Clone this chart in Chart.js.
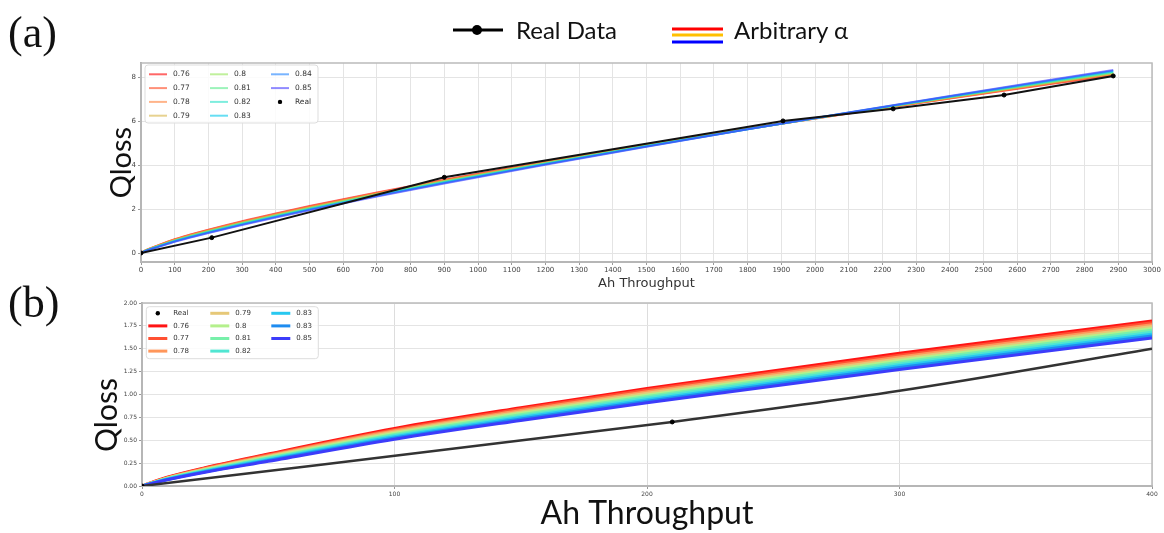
<!DOCTYPE html>
<html>
<head>
<meta charset="utf-8">
<script src="https://cdn.jsdelivr.net/npm/chart.js@4.4.1/dist/chart.umd.min.js"></script>
<style>
  body { margin: 0; background: #fff; width: 1164px; height: 533px; position: relative; overflow: hidden; }
  .panel { position: absolute; left: 0; width: 1164px; }
  #panelA { top: 0; height: 292px; }
  #panelB { top: 292px; height: 241px; }
  #overlay { position: absolute; left: 0; top: 0; pointer-events: none; }
</style>
</head>
<body>
<div class="panel" id="panelA"><canvas id="chartA"></canvas></div>
<div class="panel" id="panelB"><canvas id="chartB"></canvas></div>

<!-- figure-level decoration: panel tags, shared legend, y title of (b) -->
<svg id="overlay" width="1164" height="533">
  <text x="8" y="47" font-family="Liberation Serif" font-size="44" fill="#111">(a)</text>
  <text x="8" y="317" font-family="Liberation Serif" font-size="44" fill="#111">(b)</text>
  <line x1="453" y1="30" x2="503" y2="30" stroke="#000" stroke-width="3"/>
  <circle cx="477" cy="30" r="5" fill="#000"/>
  <text x="516" y="39" font-family="Lato" font-size="24" fill="#111">Real Data</text>
  <line x1="672" y1="29" x2="723" y2="29" stroke="#ff0000" stroke-width="3"/>
  <line x1="672" y1="35" x2="723" y2="35" stroke="#ffc000" stroke-width="3"/>
  <line x1="672" y1="42" x2="723" y2="42" stroke="#0000ff" stroke-width="3"/>
  <text x="734" y="39" font-family="Lato" font-size="24" fill="#111">Arbitrary α</text>
  <text transform="translate(117,415) rotate(-90)" text-anchor="middle" font-family="Lato" font-size="30" fill="#111">Qloss</text>
</svg>

<script>
// Ah throughput grid the fitted curves are read at
const xGrid = [0, 10, 25, 50, 100, 150, 200, 300, 400, 500, 700, 900, 1200, 1500, 1800, 2100, 2400, 2700, 2885];

// Qloss for each alpha
const q076 = [0, 0.095, 0.200, 0.350, 0.629, 0.856, 1.065, 1.450, 1.804, 2.138, 2.761, 3.342, 4.159, 4.927, 5.660, 6.363, 7.041, 7.701, 8.098];
const q077 = [0, 0.092, 0.194, 0.341, 0.616, 0.841, 1.048, 1.430, 1.783, 2.117, 2.740, 3.323, 4.144, 4.918, 5.657, 6.368, 7.054, 7.722, 8.125];
const q078 = [0, 0.089, 0.189, 0.332, 0.603, 0.825, 1.031, 1.411, 1.763, 2.096, 2.720, 3.304, 4.129, 4.909, 5.655, 6.373, 7.067, 7.744, 8.152];
const q079 = [0, 0.086, 0.183, 0.323, 0.590, 0.810, 1.013, 1.391, 1.742, 2.074, 2.699, 3.285, 4.114, 4.900, 5.652, 6.378, 7.080, 7.765, 8.179];
const q080 = [0, 0.083, 0.178, 0.314, 0.577, 0.794, 0.996, 1.372, 1.721, 2.053, 2.678, 3.266, 4.099, 4.891, 5.650, 6.383, 7.093, 7.786, 8.206];
const q081 = [0, 0.080, 0.172, 0.306, 0.564, 0.779, 0.979, 1.352, 1.701, 2.032, 2.658, 3.247, 4.085, 4.882, 5.647, 6.388, 7.106, 7.808, 8.233];
const q082 = [0, 0.077, 0.167, 0.297, 0.551, 0.763, 0.962, 1.333, 1.680, 2.011, 2.637, 3.228, 4.070, 4.873, 5.645, 6.393, 7.119, 7.829, 8.259];
const q083 = [0, 0.074, 0.161, 0.288, 0.538, 0.748, 0.944, 1.313, 1.659, 1.990, 2.616, 3.210, 4.055, 4.864, 5.642, 6.398, 7.132, 7.850, 8.286];
const q084 = [0, 0.071, 0.156, 0.279, 0.525, 0.732, 0.927, 1.294, 1.639, 1.968, 2.596, 3.191, 4.040, 4.855, 5.640, 6.403, 7.145, 7.872, 8.313];
const q085 = [0, 0.068, 0.150, 0.270, 0.512, 0.717, 0.910, 1.274, 1.618, 1.947, 2.575, 3.172, 4.025, 4.846, 5.637, 6.408, 7.158, 7.893, 8.340];
const seriesQ = [q076, q077, q078, q079, q080, q081, q082, q083, q084, q085];

// legend labels (panel (b) really has 0.83 twice)
const alphaLabelsA = ['0.76', '0.77', '0.78', '0.79', '0.8', '0.81', '0.82', '0.83', '0.84', '0.85'];
const alphaLabelsB = ['0.76', '0.77', '0.78', '0.79', '0.8', '0.81', '0.82', '0.83', '0.83', '0.85'];

// measured points
const realX = [0, 210, 900, 1905, 2232, 2561, 2885];
const realY = [0, 0.70, 3.45, 6.02, 6.57, 7.20, 8.07];
// smoothed real curve shown in the zoomed panel
const realLineBX = [0, 210, 300, 400];
const realLineBY = [0, 0.70, 1.04, 1.50];

// tick labels
const xTicksA = [0, 100, 200, 300, 400, 500, 600, 700, 800, 900, 1000, 1100, 1200, 1300, 1400, 1500,
                 1600, 1700, 1800, 1900, 2000, 2100, 2200, 2300, 2400, 2500, 2600, 2700, 2800, 2900, 3000];
const yTicksA = [0, 2, 4, 6, 8];
const xTicksB = [0, 100, 200, 300, 400];
const yTicksB = [0, 0.25, 0.5, 0.75, 1, 1.25, 1.5, 1.75, 2];

// rainbow-ish colours, pale in (a), strong in (b)
const colorsA = ['rgba(255,0,0,0.6)', 'rgba(255,70,30,0.6)', 'rgba(255,130,60,0.6)', 'rgba(215,180,70,0.6)',
                 'rgba(150,230,90,0.6)', 'rgba(90,235,140,0.6)', 'rgba(40,225,200,0.6)', 'rgba(0,200,235,0.6)',
                 'rgba(30,130,255,0.6)', 'rgba(70,60,255,0.6)'];
const colorsB = ['rgb(255,20,20)', 'rgb(255,80,50)', 'rgb(255,150,90)', 'rgb(230,200,120)', 'rgb(180,240,140)',
                 'rgb(120,240,170)', 'rgb(80,230,210)', 'rgb(40,200,240)', 'rgb(30,140,240)', 'rgb(60,60,250)'];

Chart.defaults.font.family = "'DejaVu Sans', sans-serif";
Chart.defaults.color = '#444';
Chart.defaults.animation = false;

function toPoints(xs, ys) {
    return ys.map((y, i) => ({ x: xs[i], y: y }));
}

// grey box round the plot, like matplotlib spines
const frame = {
    id: 'frame',
    beforeDatasetsDraw(chart) {
        const { ctx, chartArea: a } = chart;
        ctx.save();
        ctx.strokeStyle = '#bbbbbb';
        ctx.lineWidth = 1.5;
        ctx.strokeRect(a.left, a.top, a.right - a.left, a.bottom - a.top);
        ctx.restore();
    }
};

// column-major legend box drawn inside the plot
const mplLegend = {
    id: 'mplLegend',
    afterDatasetsDraw(chart, args, o) {
        const { ctx, chartArea } = chart;
        const left = chartArea.left + o.dx, top = chartArea.top + o.dy;
        ctx.save();
        ctx.beginPath();
        ctx.roundRect(left, top, o.width, o.height, 3);
        ctx.fillStyle = 'rgba(255,255,255,0.85)';
        ctx.fill();
        ctx.strokeStyle = '#dddddd';
        ctx.lineWidth = 1;
        ctx.stroke();
        ctx.font = o.fontSize + "px 'DejaVu Sans'";
        ctx.textBaseline = 'middle';
        o.columns.forEach((col, c) => {
            col.forEach((idx, r) => {
                const ds = chart.data.datasets[idx];
                const x = left + o.colX[c];
                const y = top + o.firstRow + r * o.rowGap;
                if (ds.showLine === false) {
                    ctx.beginPath();
                    ctx.arc(x + o.lineLen / 2, y, 2.2, 0, Math.PI * 2);
                    ctx.fillStyle = '#000';
                    ctx.fill();
                } else {
                    ctx.beginPath();
                    ctx.moveTo(x, y);
                    ctx.lineTo(x + o.lineLen, y);
                    ctx.strokeStyle = ds.borderColor;
                    ctx.lineWidth = ds.borderWidth;
                    ctx.stroke();
                }
                ctx.fillStyle = '#333';
                ctx.fillText(ds.label, x + o.lineLen + o.textGap, y);
            });
        });
        ctx.restore();
    }
};

// ---------- panel (a): full range ----------
const datasetsA = seriesQ.map((ys, k) => ({
    label: alphaLabelsA[k],
    data: toPoints(xGrid, ys),
    borderColor: colorsA[k],
    backgroundColor: colorsA[k],
    borderWidth: 2,
    pointRadius: 0,
    cubicInterpolationMode: 'monotone',
    order: 20 - k
}));
datasetsA.push({ label: 'Real line', data: toPoints(realX, realY), borderColor: '#111', borderWidth: 2, pointRadius: 0, order: 1 });
datasetsA.push({ label: 'Real', data: toPoints(realX, realY), showLine: false, pointRadius: 2,
                 pointBackgroundColor: '#000', pointBorderColor: '#000', borderColor: '#000', order: 0 });

const ctxA = document.getElementById('chartA').getContext('2d');
const chartA = new Chart(ctxA, {
    type: 'line',
    data: { datasets: datasetsA },
    plugins: [frame, mplLegend],
    options: {
        responsive: true,
        maintainAspectRatio: false,
        layout: { padding: { left: 104, right: 12, top: 63, bottom: 0 } },
        plugins: {
            legend: { display: false },
            tooltip: { enabled: false },
            mplLegend: { dx: 4, dy: 2, width: 173, height: 58, firstRow: 9.3, rowGap: 13.8, colX: [4, 65, 126],
                         lineLen: 18, textGap: 6, fontSize: 7.5, columns: [[0, 1, 2, 3], [4, 5, 6, 7], [8, 9, 11]] }
        },
        scales: {
            x: {
                type: 'linear', min: 0, max: 3000,
                afterBuildTicks: s => { s.ticks = xTicksA.map(v => ({ value: v })); },
                afterFit: s => { s.height = 30; },
                ticks: { autoSkip: false, maxRotation: 0, font: { size: 7 }, padding: 1, callback: v => String(v) },
                grid: { color: '#e4e4e4', tickLength: 3, tickColor: '#999' },
                border: { color: '#a8a8a8', width: 2 },
                title: { display: true, text: 'Ah Throughput', color: '#333', font: { size: 13 }, padding: { top: 0, bottom: 1 } }
            },
            y: {
                type: 'linear', min: -0.41, max: 8.66,
                afterBuildTicks: s => { s.ticks = yTicksA.map(v => ({ value: v })); },
                afterFit: s => { s.width = 37; },
                ticks: { font: { size: 7 }, padding: 2, callback: v => String(v) },
                grid: { color: '#e4e4e4', tickLength: 3, tickColor: '#999' },
                border: { color: '#a8a8a8', width: 2 },
                title: { display: true, text: 'Qloss', color: '#111', font: { family: 'Lato', size: 29 }, padding: 0 }
            }
        }
    }
});

// ---------- panel (b): zoom on the first 400 Ah ----------
const datasetsB = seriesQ.map((ys, k) => ({
    label: alphaLabelsB[k],
    data: toPoints(xGrid, ys),
    borderColor: colorsB[k],
    backgroundColor: colorsB[k],
    borderWidth: 3,
    pointRadius: 0,
    cubicInterpolationMode: 'monotone',
    clip: 0,
    order: 20 - k
}));
datasetsB.push({ label: 'Real line', data: toPoints(realLineBX, realLineBY), borderColor: '#333', borderWidth: 2.5,
                 pointRadius: 0, cubicInterpolationMode: 'monotone', clip: 0, order: 1 });
datasetsB.push({ label: 'Real', data: toPoints(realX, realY), showLine: false, pointRadius: 2,
                 pointBackgroundColor: '#000', pointBorderColor: '#000', borderColor: '#000', clip: 0, order: 0 });

const ctxB = document.getElementById('chartB').getContext('2d');
const chartB = new Chart(ctxB, {
    type: 'line',
    data: { datasets: datasetsB },
    plugins: [frame, mplLegend],
    options: {
        responsive: true,
        maintainAspectRatio: false,
        layout: { padding: { left: 90, right: 12, top: 11, bottom: 0 } },
        plugins: {
            legend: { display: false },
            tooltip: { enabled: false },
            mplLegend: { dx: 4.3, dy: 3.7, width: 172, height: 52, firstRow: 6.6, rowGap: 12.6, colX: [2, 64, 125],
                         lineLen: 19, textGap: 6, fontSize: 7, columns: [[11, 0, 1, 2], [3, 4, 5, 6], [7, 8, 9]] }
        },
        scales: {
            x: {
                type: 'linear', min: 0, max: 400,
                afterBuildTicks: s => { s.ticks = xTicksB.map(v => ({ value: v })); },
                afterFit: s => { s.height = 47; },
                ticks: { autoSkip: false, maxRotation: 0, font: { size: 6 }, padding: 2, callback: v => String(v) },
                grid: { color: '#dddddd', tickLength: 3, tickColor: '#999' },
                border: { color: '#a8a8a8', width: 2 },
                title: { display: true, text: 'Ah Throughput', color: '#111', font: { family: 'Lato', size: 32 }, padding: { top: 0, bottom: 0 } }
            },
            y: {
                type: 'linear', min: 0, max: 2,
                afterBuildTicks: s => { s.ticks = yTicksB.map(v => ({ value: v })); },
                afterFit: s => { s.width = 52; },
                ticks: { font: { size: 6 }, padding: 2, callback: v => v.toFixed(2) },
                grid: { color: '#e4e4e4', tickLength: 3, tickColor: '#999' },
                border: { color: '#a8a8a8', width: 2 }
            }
        }
    }
});
</script>
</body>
</html>
